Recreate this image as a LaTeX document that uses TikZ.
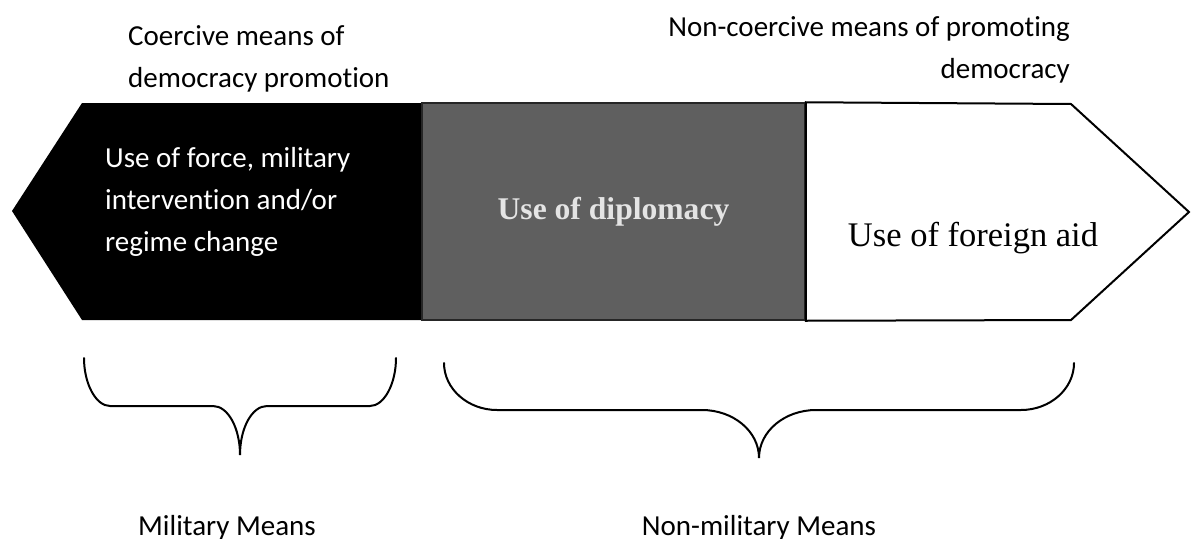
\documentclass[tikz,border=0pt]{standalone}
\usepackage{fontspec}
\setmainfont{Carlito}[Ligatures=NoCommon]
\newfontfamily\timesfont{Liberation Serif}
\definecolor{dpgray}{HTML}{5F5F5F}
\definecolor{dplight}{HTML}{E4E4E4}
\tikzset{
  caption/.style={inner sep=0pt, font=\fontsize{29}{42}\selectfont},
  armtext/.style={inner sep=0pt, align=left, text=white, font=\fontsize{29}{42}\selectfont},
  diplobox/.style={rectangle, draw=black!85, line width=1.5pt, fill=dpgray, minimum width=383pt,
    minimum height=217pt, inner sep=0pt, text=dplight, font=\timesfont\bfseries\fontsize{31.6}{38}\selectfont},
  aidarm/.style={draw=black, line width=2pt, fill=white},
  aidtext/.style={inner sep=0pt, font=\timesfont\fontsize{34.5}{41}\selectfont},
  bracepath/.style={line width=2pt, line cap=round},
}

\begin{document}
\begin{tikzpicture}[x=1pt, y=-1pt]
  \useasboundingbox (0,0) rectangle (1193,538);

  % coercive end (black arrow pointing left)
  \fill[black] (12,211) -- (82,103) -- (422,103) -- (422,320) -- (82,320) -- cycle;
  \node[armtext, anchor=base west] (force) at (105,251) {Use of force, military\\intervention and/or\\regime change};

  % middle block
  \node[diplobox] (diplo) at (613.5,211.5) {\raisebox{-3pt}{Use of diplomacy}};

  % non-coercive end (white arrow pointing right)
  \draw[aidarm] (diplo.north east) -- (1071,104) -- (1189,212) -- (1071,320) -- (diplo.south east) -- cycle;
  \node[aidtext, anchor=base] (aid) at (973,246) {Use of foreign aid};

  % top captions
  \node[caption, align=left, anchor=base west] (coercive) at (128,87) {Coercive means of\\democracy promotion};
  \node[caption, align=right, anchor=base east] (noncoercive) at (1070,78) {Non-coercive means of promoting\\democracy};

  % braces
  \coordinate (miltip) at (240,455);
  \coordinate (nonmiltip) at (759,458);
  \draw[bracepath] (84,358) .. controls (84,384) and (96,406) .. (110,406) -- (213,406)
    .. controls (228,406) and (240,428) .. (miltip)
    .. controls (240,428) and (252,406) .. (267,406) -- (370,406)
    .. controls (384,406) and (396,384) .. (396,358);
  \draw[bracepath] (444,363) .. controls (444,389) and (468,410) .. (497,410) -- (702,410)
    .. controls (733,410) and (759,431) .. (nonmiltip)
    .. controls (759,431) and (785,410) .. (816,410) -- (1021,410)
    .. controls (1050,410) and (1074,389) .. (1074,363);

  % bottom captions
  \node[caption, anchor=base] (military) at (227,535) {Military Means};
  \node[caption, anchor=base] (nonmilitary) at (759,535) {Non-military Means};
\end{tikzpicture}
\end{document}
